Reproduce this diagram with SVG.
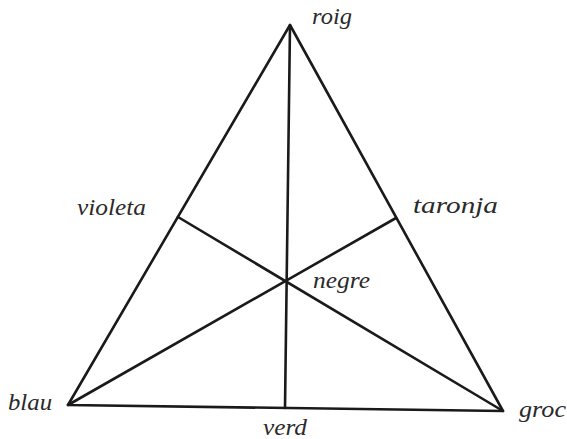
<svg xmlns="http://www.w3.org/2000/svg" width="567" height="439" viewBox="0 0 567 439">
<style>
.l{stroke:#1a1a1a;stroke-width:2.6;fill:none;stroke-linecap:round;stroke-linejoin:round}
.t{font-family:"Liberation Serif","Times New Roman",Times,serif;font-style:italic;font-size:23px;fill:#2a2a2a}
</style>
<rect width="567" height="439" fill="#fff"/>
<g id="connectors">
<polygon class="l" points="290,25 68,405 503,411"/>
<line class="l" x1="290" y1="25" x2="285" y2="408"/>
<line class="l" x1="68" y1="405" x2="396" y2="218"/>
<line class="l" x1="503" y1="411" x2="178" y2="217"/>
</g>
<g id="roig"><text class="t" x="312" y="24" textLength="40" lengthAdjust="spacingAndGlyphs">roig</text></g>
<g id="violeta"><text class="t" x="77" y="215" textLength="69" lengthAdjust="spacingAndGlyphs">violeta</text></g>
<g id="taronja"><text class="t" x="413" y="213" textLength="85" lengthAdjust="spacingAndGlyphs">taronja</text></g>
<g id="negre"><text class="t" x="313" y="288" textLength="57" lengthAdjust="spacingAndGlyphs">negre</text></g>
<g id="blau"><text class="t" x="8" y="410" textLength="44" lengthAdjust="spacingAndGlyphs">blau</text></g>
<g id="groc"><text class="t" x="519" y="417" textLength="47" lengthAdjust="spacingAndGlyphs">groc</text></g>
<g id="verd"><text class="t" x="263" y="435" textLength="44" lengthAdjust="spacingAndGlyphs">verd</text></g>
</svg>
